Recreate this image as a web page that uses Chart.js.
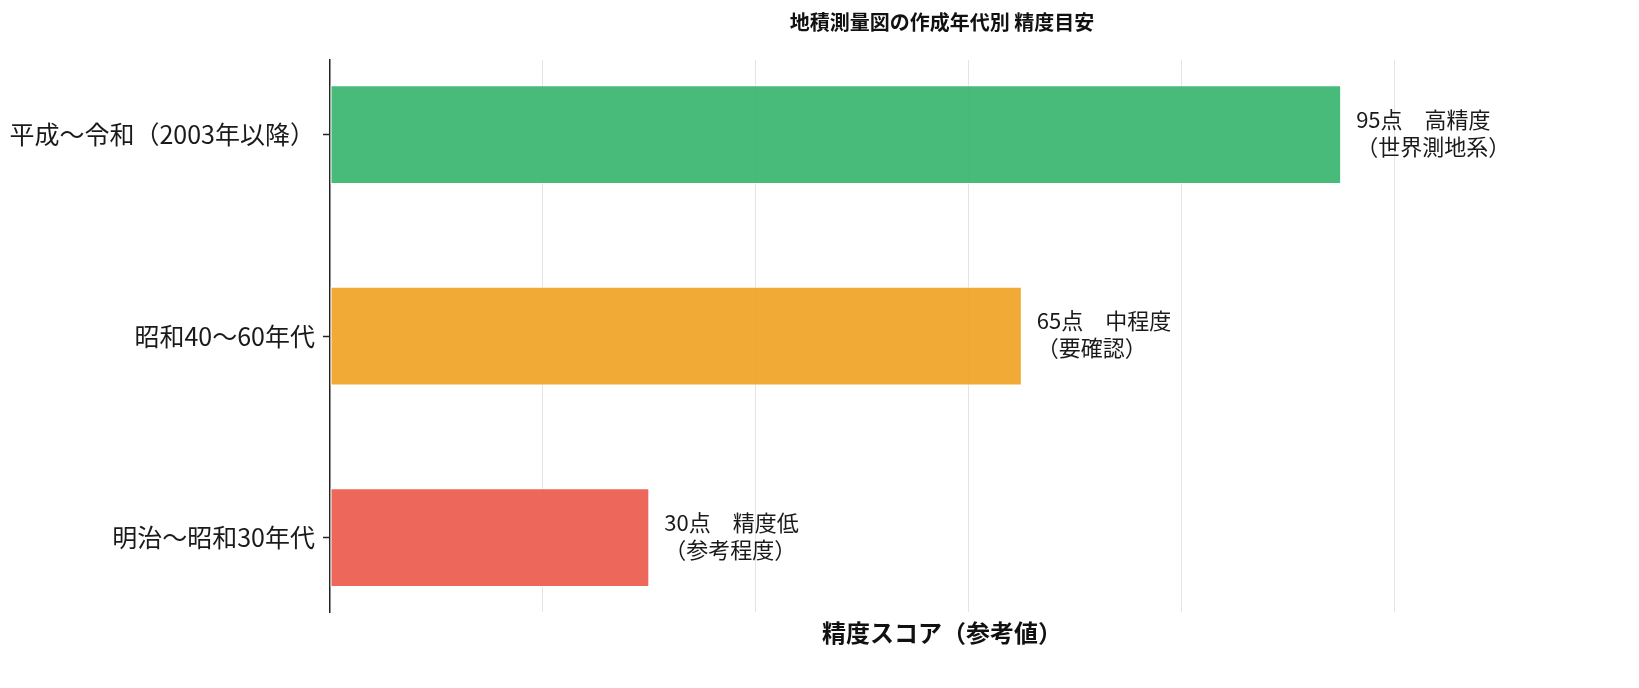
<!DOCTYPE html>
<html>
<head>
<meta charset="utf-8">
<script src="https://cdn.jsdelivr.net/npm/chart.js@4"></script>
<style>
   html, body { margin: 0; padding: 0; background: #fff; overflow: hidden; }
   canvas { display: block; }
</style>
</head>
<body>
<canvas id="grafPrecisao" width="1639" height="688"></canvas>
<script>
//-> DADOS DO GRÁFICO (de cima para baixo)...
const periodos = ['平成～令和（2003年以降）', '昭和40～60年代', '明治～昭和30年代'];
const pontos = [95, 65, 30];
const niveis = ['高精度', '中程度', '精度低'];
const notas = ['（世界測地系）', '（要確認）', '（参考程度）'];
const cores = ['rgba(52,179,107,0.9)', 'rgba(241,161,32,0.9)', 'rgba(235,87,73,0.9)'];
const ticksX = [0, 20, 40, 60, 80, 100];

const fonteJP = '"Noto Sans CJK JP", "Noto Sans", sans-serif';

//-> RÓTULOS AO LADO DAS BARRAS...
const rotulosBarras = {
   id: 'rotulosBarras',
   afterDatasetsDraw(chart) {
      const ctx = chart.ctx;
      const meta = chart.getDatasetMeta(0);
      ctx.save();
      ctx.font = '22px ' + fonteJP;
      ctx.fillStyle = '#1a1a1a';
      ctx.textAlign = 'left';
      ctx.textBaseline = 'middle';
      meta.data.forEach((barra, i) => {
         const x = barra.x + 15;
         ctx.fillText(pontos[i] + '点　' + niveis[i], x, barra.y - 15);
         ctx.fillText(notas[i], x, barra.y + 12);
      });
      ctx.restore();
   }
};

const grafCtx = document.getElementById('grafPrecisao').getContext('2d');
const chartjs = new Chart(grafCtx, {
   type: 'bar',
   data: {
      datasets: [{
         data: pontos.map((p, i) => ({ x: p, y: i })),
         backgroundColor: cores,
         borderColor: 'rgba(255,255,255,0.8)',
         borderWidth: 1,
         borderSkipped: false,
         barPercentage: 0.49,
         categoryPercentage: 1
      }]
   },
   options: {
      indexAxis: 'y',
      responsive: false,
      devicePixelRatio: 1,
      animation: false,
      layout: { padding: { left: 0, right: 85, top: 0, bottom: 37 } },
      plugins: {
         legend: { display: false },
         tooltip: { enabled: false },
         title: {
            display: true,
            text: '地積測量図の作成年代別 精度目安',
            fullSize: false,
            color: '#111',
            font: { family: fonteJP, size: 20, weight: 'bold', lineHeight: 1.2 },
            padding: { top: 10, bottom: 26 }
         }
      },
      scales: {
         x: {
            type: 'linear',
            min: 0,
            max: 115,
            afterBuildTicks: (escala) => { escala.ticks = ticksX.map(v => ({ value: v })); },
            ticks: { display: false },
            border: { display: false },
            grid: {
               drawTicks: false,
               lineWidth: 1,
               color: (c) => (c.tick && c.tick.value > 0) ? '#e4e4e4' : 'rgba(0,0,0,0)'
            },
            title: {
               display: true,
               text: '精度スコア（参考値）',
               color: '#111',
               font: { family: fonteJP, size: 24, weight: 'bold', lineHeight: 1.2 },
               padding: { top: 6, bottom: 4 }
            }
         },
         y: {
            type: 'linear',
            min: -0.37,
            max: 2.37,
            reverse: true,
            offset: false,
            afterBuildTicks: (escala) => { escala.ticks = periodos.map((p, i) => ({ value: i })); },
            afterFit: (escala) => { escala.width = 330; },
            ticks: {
               color: '#1a1a1a',
               padding: 8,
               font: { family: fonteJP, size: 25 },
               callback: (v) => periodos[v]
            },
            border: { display: true, color: '#222', width: 1.5 },
            grid: {
               offset: false,
               drawOnChartArea: false,
               drawTicks: true,
               tickLength: 7,
               tickColor: '#222',
               tickWidth: 1.5
            }
         }
      }
   },
   plugins: [rotulosBarras]
});
</script>
</body>
</html>
